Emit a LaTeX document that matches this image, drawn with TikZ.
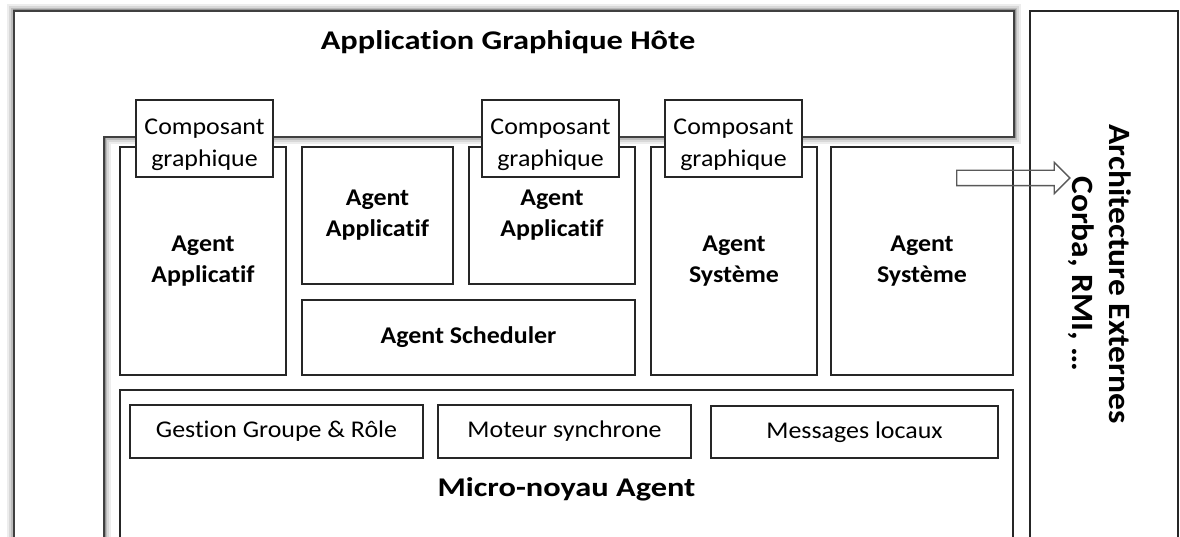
\documentclass[tikz,border=0pt]{standalone}
\usepackage{fontspec}
\setmainfont{Carlito}[FakeStretch=1.08, Ligatures=NoCommon]
\newfontfamily\titlefont{Carlito}[FakeStretch=1.2, Ligatures=NoCommon]
\usetikzlibrary{shapes.arrows}

\tikzset{
  box/.style={draw=black!85, line width=1.8pt, fill=white, rectangle, inner sep=0pt, align=center},
  agent/.style={box, font=\fontsize{24}{31}\selectfont\bfseries},
  compo/.style={box, minimum width=137, minimum height=77},
  compotext/.style={align=center, inner sep=0pt, font=\fontsize{24}{32}\selectfont},
  service/.style={box, font=\fontsize{24}{28}\selectfont},
  bigtitle/.style={font=\titlefont\fontsize{27}{30}\selectfont\bfseries},
  glow/.style={draw=black, line join=miter},
}

\begin{document}
\begin{tikzpicture}[x=1pt, y=-1pt]
  \useasboundingbox (0,0) rectangle (1180,537);
  \clip (0,0) rectangle (1180,537);

  % host application frame, with its soft shadow
  \foreach \w/\o in {14/0.07, 10/0.09, 6/0.13, 3/0.22}
    \draw[glow, line width=\w pt, opacity=\o]
      (14,560) -- (14,11) -- (1014,11) -- (1014,137) -- (104,137) -- (104,560) -- cycle;
  \draw[fill=white, draw=black!75, line width=1.8pt]
    (14,560) -- (14,11) -- (1014,11) -- (1014,137) -- (104,137) -- (104,560) -- cycle;
  \node[bigtitle] (host) at (508,42) {Application Graphique H\^ote};

  % external architectures
  \node[box, minimum width=148, minimum height=549] (ext) at (1104,285.5) {};
  \node[font=\fontsize{31}{37}\selectfont\bfseries, rotate=-90, align=center] (extlbl) at (1100,274)
    {Architecture Externes\\Corba, RMI, \dots};

  % the agents
  \node[agent, minimum width=166, minimum height=228] (app1) at (203,261) {Agent\\Applicatif};
  \node[agent, minimum width=151, minimum height=137] (app2) at (377.5,215.5) {Agent\\Applicatif};
  \node[agent, minimum width=166, minimum height=137] (app3) at (552,215.5) {Agent\\Applicatif};
  \node[agent, minimum width=333, minimum height=75] (sched) at (468.5,337.5) {Agent Scheduler};
  \node[agent, minimum width=166, minimum height=228] (sys1) at (734,261) {Agent\\Syst\`eme};
  \node[agent, minimum width=182, minimum height=228] (sys2) at (922,261) {Agent\\Syst\`eme};

  % the kernel
  \node[box, minimum width=893, minimum height=170] (micro) at (566.5,475) {};
  \node[bigtitle] (microlbl) at (566.5,489) {Micro-noyau Agent};
  \node[service, minimum width=293, minimum height=53] (groupe) at (276.5,431.5) {Gestion Groupe \& R\^ole};
  \node[service, minimum width=253, minimum height=53] (moteur) at (564.5,431.5) {Moteur synchrone};
  \node[service, minimum width=287, minimum height=52] (msg) at (854.5,432) {Messages locaux};

  % graphical components
  \foreach \n/\x in {comp1/204.5, comp2/550.5, comp3/733.5} {
    \node[compo] (\n) at (\x,138.5) {};
    \node[compotext] (\n-txt) at ([yshift=-6pt]\n.center) {Composant\\graphique};
  }

  % link to the outside
  \node[single arrow, draw=black!65, line width=1.3pt, minimum height=113, inner xsep=0pt,
        inner ysep=7pt, single arrow head extend=8pt] (out) at (1009.5,178) {};
\end{tikzpicture}
\end{document}
